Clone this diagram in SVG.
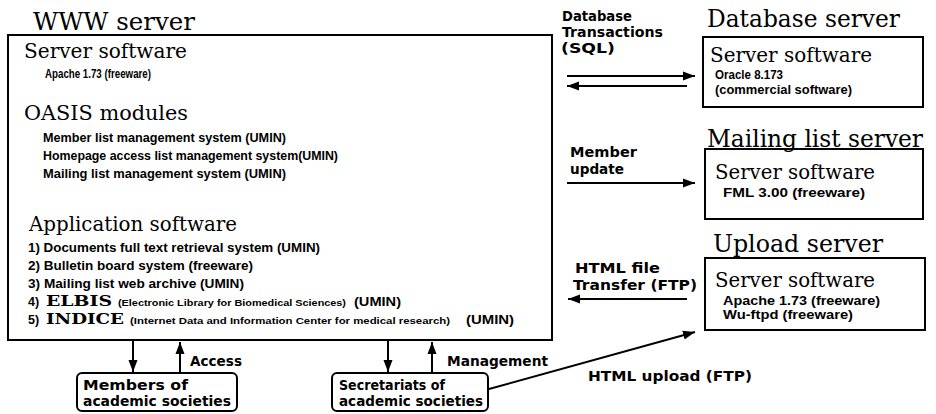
<svg xmlns="http://www.w3.org/2000/svg" width="936" height="414" viewBox="0 0 936 414">
<style>
.title{font-family:"DejaVu Serif","Liberation Serif",serif;font-size:24px;fill:#000}
.hd{font-family:"DejaVu Serif","Liberation Serif",serif;font-size:20px;fill:#000}
.sm{font-family:"Liberation Sans",Arial,sans-serif;font-weight:bold;font-size:12.5px;fill:#000}
.xs{font-family:"Liberation Sans",Arial,sans-serif;font-weight:bold;font-size:9.5px;fill:#000}
.cap{font-family:"DejaVu Serif","Liberation Serif",serif;font-weight:bold;font-size:15px;fill:#000}
.rs{font-family:"Liberation Sans",Arial,sans-serif;font-weight:bold;font-size:12.5px;fill:#000}
.lbl{font-family:"DejaVu Sans","Liberation Sans",sans-serif;font-weight:bold;font-size:13.5px;fill:#000}
.lab{font-family:"DejaVu Sans","Liberation Sans",sans-serif;font-weight:bold;font-size:13.5px;fill:#000}
.box{fill:#fff;stroke:#000;stroke-width:2}
.conn{fill:none;stroke:#000;stroke-width:2}
</style>
<defs>
<marker id="arr" markerUnits="userSpaceOnUse" markerWidth="13" markerHeight="10" refX="12" refY="5" orient="auto">
<path d="M0,0.5 L12,5 L0,9.5 z" fill="#000"/>
</marker>
</defs>
<rect width="936" height="414" fill="#fff"/>

<g id="www-server">
<text class="title" x="33" y="30" textLength="162" lengthAdjust="spacingAndGlyphs">WWW server</text>
<rect class="box" x="8" y="35" width="544" height="305"/>
<text class="hd" x="24" y="58" textLength="163" lengthAdjust="spacingAndGlyphs">Server software</text>
<text class="sm" x="45" y="78" font-size="12" textLength="106" lengthAdjust="spacingAndGlyphs">Apache 1.73 (freeware)</text>
<text class="hd" x="24" y="120" textLength="164" lengthAdjust="spacingAndGlyphs">OASIS modules</text>
<text class="sm" x="43" y="142" textLength="243" lengthAdjust="spacingAndGlyphs">Member list management system (UMIN)</text>
<text class="sm" x="43" y="160" textLength="295" lengthAdjust="spacingAndGlyphs">Homepage access list management system(UMIN)</text>
<text class="sm" x="43" y="178" textLength="243" lengthAdjust="spacingAndGlyphs">Mailing list management system (UMIN)</text>
<text class="hd" x="29" y="231" textLength="208" lengthAdjust="spacingAndGlyphs">Application software</text>
<text class="sm" x="28" y="252" textLength="292" lengthAdjust="spacingAndGlyphs">1) Documents full text retrieval system (UMIN)</text>
<text class="sm" x="28" y="270" textLength="225" lengthAdjust="spacingAndGlyphs">2) Bulletin board system (freeware)</text>
<text class="sm" x="28" y="288" textLength="216" lengthAdjust="spacingAndGlyphs">3) Mailing list web archive (UMIN)</text>
<text class="sm" x="28" y="306">4)</text>
<text class="cap" x="46" y="306" textLength="66" lengthAdjust="spacingAndGlyphs">ELBIS</text>
<text class="xs" x="118" y="306" textLength="228" lengthAdjust="spacingAndGlyphs">(Electronic Library for Biomedical Sciences)</text>
<text class="sm" x="354" y="306" textLength="47" lengthAdjust="spacingAndGlyphs">(UMIN)</text>
<text class="sm" x="28" y="324">5)</text>
<text class="cap" x="46" y="324" textLength="78" lengthAdjust="spacingAndGlyphs">INDICE</text>
<text class="xs" x="130" y="324" textLength="320" lengthAdjust="spacingAndGlyphs">(Internet Data and Information Center for medical research)</text>
<text class="sm" x="466" y="324" textLength="48" lengthAdjust="spacingAndGlyphs">(UMIN)</text>
</g>

<g id="database-server">
<text class="title" x="707" y="27" textLength="193" lengthAdjust="spacingAndGlyphs">Database server</text>
<rect class="box" x="703" y="37" width="220" height="70"/>
<text class="hd" x="710" y="62" textLength="162" lengthAdjust="spacingAndGlyphs">Server software</text>
<text class="rs" x="715" y="79" textLength="68" lengthAdjust="spacingAndGlyphs">Oracle 8.173</text>
<text class="rs" x="715" y="94" textLength="137" lengthAdjust="spacingAndGlyphs">(commercial software)</text>
</g>

<g id="mailing-list-server">
<rect class="box" x="705" y="149" width="218" height="70"/>
<text class="title" x="707" y="147" textLength="216" lengthAdjust="spacingAndGlyphs">Mailing list server</text>
<text class="hd" x="715" y="179" textLength="160" lengthAdjust="spacingAndGlyphs">Server software</text>
<text class="rs" x="723" y="197" textLength="142" lengthAdjust="spacingAndGlyphs">FML 3.00 (freeware)</text>
</g>

<g id="upload-server">
<text class="title" x="713" y="252" textLength="170" lengthAdjust="spacingAndGlyphs">Upload server</text>
<rect class="box" x="705" y="258" width="220" height="72"/>
<text class="hd" x="715" y="287" textLength="160" lengthAdjust="spacingAndGlyphs">Server software</text>
<text class="rs" x="723" y="305" textLength="157" lengthAdjust="spacingAndGlyphs">Apache 1.73 (freeware)</text>
<text class="rs" x="723" y="319" textLength="130" lengthAdjust="spacingAndGlyphs">Wu-ftpd (freeware)</text>
</g>

<g id="members">
<rect class="box" x="77" y="373" width="160" height="38" rx="5"/>
<text class="lab" x="83" y="390" textLength="105" lengthAdjust="spacingAndGlyphs">Members of</text>
<text class="lab" x="83" y="406" textLength="148" lengthAdjust="spacingAndGlyphs">academic societies</text>
</g>

<g id="secretariats">
<rect class="box" x="332" y="373" width="156" height="38" rx="5"/>
<text class="lab" x="339" y="390" textLength="106" lengthAdjust="spacingAndGlyphs">Secretariats of</text>
<text class="lab" x="339" y="406" textLength="144" lengthAdjust="spacingAndGlyphs">academic societies</text>
</g>

<g id="connectors">
<line class="conn" x1="567" y1="76" x2="695" y2="76" marker-end="url(#arr)"/>
<line class="conn" x1="687" y1="86" x2="567" y2="86" marker-end="url(#arr)"/>
<line class="conn" x1="567" y1="183" x2="695" y2="183" marker-end="url(#arr)"/>
<line class="conn" x1="687" y1="299" x2="568" y2="299" marker-end="url(#arr)"/>
<line class="conn" x1="133" y1="341" x2="133" y2="372" marker-end="url(#arr)"/>
<line class="conn" x1="180" y1="372" x2="180" y2="342" marker-end="url(#arr)"/>
<line class="conn" x1="388" y1="341" x2="388" y2="372" marker-end="url(#arr)"/>
<line class="conn" x1="432" y1="372" x2="432" y2="342" marker-end="url(#arr)"/>
<line class="conn" x1="489" y1="389" x2="695" y2="332" marker-end="url(#arr)"/>
<text class="lbl" x="562" y="21" textLength="70" lengthAdjust="spacingAndGlyphs">Database</text>
<text class="lbl" x="562" y="37" textLength="101" lengthAdjust="spacingAndGlyphs">Transactions</text>
<text class="lbl" x="561" y="53" textLength="54" lengthAdjust="spacingAndGlyphs">(SQL)</text>
<text class="lbl" x="570" y="157" textLength="67" lengthAdjust="spacingAndGlyphs">Member</text>
<text class="lbl" x="570" y="174" textLength="54" lengthAdjust="spacingAndGlyphs">update</text>
<text class="lbl" x="575" y="273" textLength="85" lengthAdjust="spacingAndGlyphs">HTML file</text>
<text class="lbl" x="573" y="290" textLength="124" lengthAdjust="spacingAndGlyphs">Transfer (FTP)</text>
<text class="lab" x="190" y="366" textLength="52" lengthAdjust="spacingAndGlyphs">Access</text>
<text class="lab" x="447" y="366" textLength="101" lengthAdjust="spacingAndGlyphs">Management</text>
<text class="lab" x="588" y="381" textLength="164" lengthAdjust="spacingAndGlyphs">HTML upload (FTP)</text>
</g>
</svg>
